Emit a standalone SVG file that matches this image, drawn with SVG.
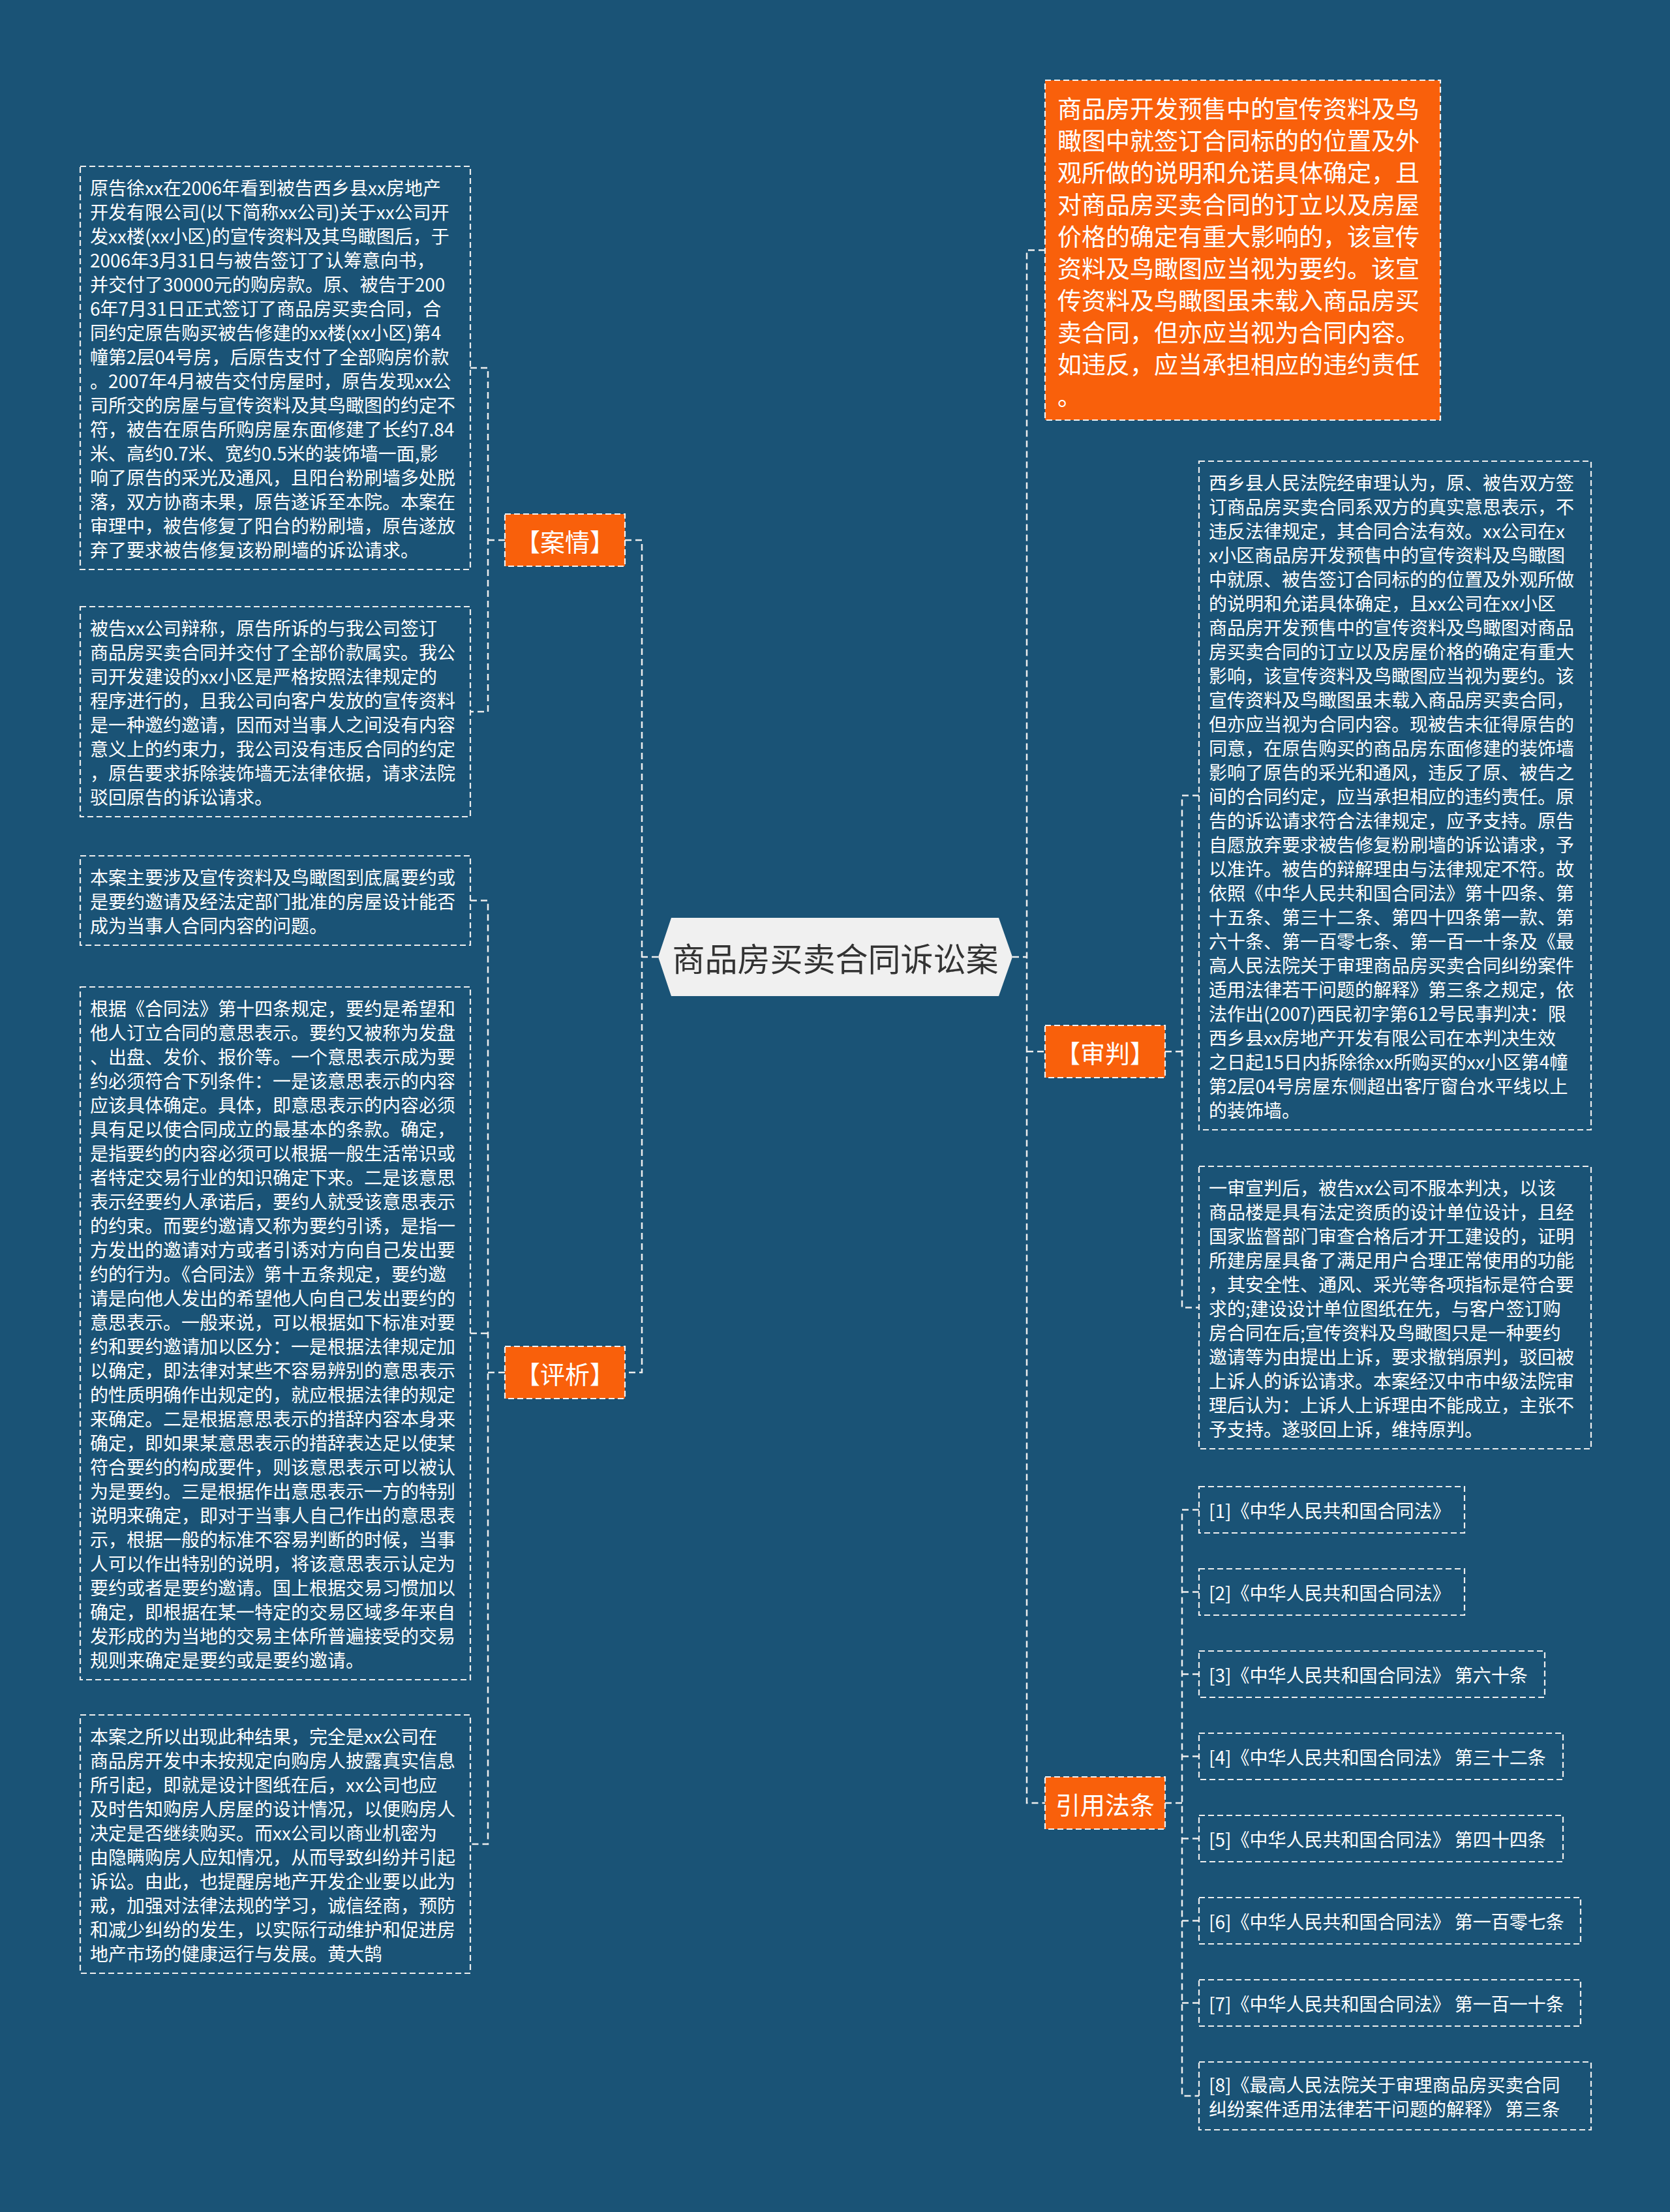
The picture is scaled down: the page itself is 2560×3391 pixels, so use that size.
<svg xmlns="http://www.w3.org/2000/svg" width="2560" height="3391" viewBox="0 0 2560 3391">
<style>
.bg{fill:#1a5376}
.box{fill:none;stroke:#eeeeee;stroke-width:2.2;stroke-dasharray:9 5}
.obox{fill:#f9600b;stroke:#f2f2f2;stroke-width:2.2;stroke-dasharray:9 5}
.t{font-family:"Noto Sans CJK SC","Noto Sans",sans-serif;font-size:28px;fill:#ffffff;dominant-baseline:central}
.ot{font-family:"Noto Sans CJK SC","Noto Sans",sans-serif;font-size:37px;fill:#ffffff;dominant-baseline:central}
.lt{font-family:"Noto Sans CJK SC","Noto Sans",sans-serif;font-size:38px;fill:#ffffff;dominant-baseline:central;text-anchor:middle}
.ct{font-family:"Noto Sans CJK SC","Noto Sans",sans-serif;font-size:50px;fill:#333333;dominant-baseline:central;text-anchor:middle}
.conn{fill:none;stroke:#eeeeee;stroke-width:2.5;stroke-dasharray:10 6}
</style>
<rect class="bg" x="0" y="0" width="2560" height="3391"/>

<g id="connectors">
<path class="conn" d="M1009,1467H984 M958,828H984V2104H958 M1552,1467H1574 M1602,383.5H1574V2764H1602 M1574,1612H1602 M774,828H748 M721,564H748V1091H721 M774,2104H748 M721,1380.5H748V2827H721 M721,2044H748 M1786,1612H1812 M1838,1219.5H1812V2004.5H1838 M1786,2764H1812 M1838,2314.5H1812V3213H1838 M1812,2440.5H1838 M1812,2566.5H1838 M1812,2692.5H1838 M1812,2818.5H1838 M1812,2944.5H1838 M1812,3070.5H1838"/>
</g>

<g id="root">
<polygon points="1009,1467 1029,1407 1531,1407 1552,1467 1531,1527 1029,1527" fill="#f0f0f0"/>
<text class="ct" x="1280.5" y="1467">商品房买卖合同诉讼案</text>
</g>

<g id="anqing">
<rect class="obox" x="774" y="788" width="184" height="80"/>
<text class="lt" x="866" y="828">【案情】</text>
</g>

<g id="pingxi">
<rect class="obox" x="774" y="2064" width="184" height="80"/>
<text class="lt" x="866" y="2104">【评析】</text>
</g>

<g id="box-a">
<rect class="box" x="123" y="255" width="598" height="618"/>
<text class="t">
<tspan x="138" y="286.5">原告徐xx在2006年看到被告西乡县xx房地产</tspan>
<tspan x="138" y="323.5">开发有限公司(以下简称xx公司)关于xx公司开</tspan>
<tspan x="138" y="360.5">发xx楼(xx小区)的宣传资料及其鸟瞰图后，于</tspan>
<tspan x="138" y="397.5">2006年3月31日与被告签订了认筹意向书，</tspan>
<tspan x="138" y="434.5">并交付了30000元的购房款。原、被告于200</tspan>
<tspan x="138" y="471.5">6年7月31日正式签订了商品房买卖合同，合</tspan>
<tspan x="138" y="508.5">同约定原告购买被告修建的xx楼(xx小区)第4</tspan>
<tspan x="138" y="545.5">幢第2层04号房，后原告支付了全部购房价款</tspan>
<tspan x="138" y="582.5">。2007年4月被告交付房屋时，原告发现xx公</tspan>
<tspan x="138" y="619.5">司所交的房屋与宣传资料及其鸟瞰图的约定不</tspan>
<tspan x="138" y="656.5">符，被告在原告所购房屋东面修建了长约7.84</tspan>
<tspan x="138" y="693.5">米、高约0.7米、宽约0.5米的装饰墙一面,影</tspan>
<tspan x="138" y="730.5">响了原告的采光及通风，且阳台粉刷墙多处脱</tspan>
<tspan x="138" y="767.5">落，双方协商未果，原告遂诉至本院。本案在</tspan>
<tspan x="138" y="804.5">审理中，被告修复了阳台的粉刷墙，原告遂放</tspan>
<tspan x="138" y="841.5">弃了要求被告修复该粉刷墙的诉讼请求。</tspan>
</text>
</g>

<g id="box-b">
<rect class="box" x="123" y="930" width="598" height="322"/>
<text class="t">
<tspan x="138" y="961.5">被告xx公司辩称，原告所诉的与我公司签订</tspan>
<tspan x="138" y="998.5">商品房买卖合同并交付了全部价款属实。我公</tspan>
<tspan x="138" y="1035.5">司开发建设的xx小区是严格按照法律规定的</tspan>
<tspan x="138" y="1072.5">程序进行的，且我公司向客户发放的宣传资料</tspan>
<tspan x="138" y="1109.5">是一种邀约邀请，因而对当事人之间没有内容</tspan>
<tspan x="138" y="1146.5">意义上的约束力，我公司没有违反合同的约定</tspan>
<tspan x="138" y="1183.5">，原告要求拆除装饰墙无法律依据，请求法院</tspan>
<tspan x="138" y="1220.5">驳回原告的诉讼请求。</tspan>
</text>
</g>

<g id="box-c">
<rect class="box" x="123" y="1312" width="598" height="137"/>
<text class="t">
<tspan x="138" y="1343.5">本案主要涉及宣传资料及鸟瞰图到底属要约或</tspan>
<tspan x="138" y="1380.5">是要约邀请及经法定部门批准的房屋设计能否</tspan>
<tspan x="138" y="1417.5">成为当事人合同内容的问题。</tspan>
</text>
</g>

<g id="box-d">
<rect class="box" x="123" y="1513" width="598" height="1062"/>
<text class="t">
<tspan x="138" y="1544.5">根据《合同法》第十四条规定，要约是希望和</tspan>
<tspan x="138" y="1581.5">他人订立合同的意思表示。要约又被称为发盘</tspan>
<tspan x="138" y="1618.5">、出盘、发价、报价等。一个意思表示成为要</tspan>
<tspan x="138" y="1655.5">约必须符合下列条件：一是该意思表示的内容</tspan>
<tspan x="138" y="1692.5">应该具体确定。具体，即意思表示的内容必须</tspan>
<tspan x="138" y="1729.5">具有足以使合同成立的最基本的条款。确定，</tspan>
<tspan x="138" y="1766.5">是指要约的内容必须可以根据一般生活常识或</tspan>
<tspan x="138" y="1803.5">者特定交易行业的知识确定下来。二是该意思</tspan>
<tspan x="138" y="1840.5">表示经要约人承诺后，要约人就受该意思表示</tspan>
<tspan x="138" y="1877.5">的约束。而要约邀请又称为要约引诱，是指一</tspan>
<tspan x="138" y="1914.5">方发出的邀请对方或者引诱对方向自己发出要</tspan>
<tspan x="138" y="1951.5">约的行为。《合同法》第十五条规定，要约邀</tspan>
<tspan x="138" y="1988.5">请是向他人发出的希望他人向自己发出要约的</tspan>
<tspan x="138" y="2025.5">意思表示。一般来说，可以根据如下标准对要</tspan>
<tspan x="138" y="2062.5">约和要约邀请加以区分：一是根据法律规定加</tspan>
<tspan x="138" y="2099.5">以确定，即法律对某些不容易辨别的意思表示</tspan>
<tspan x="138" y="2136.5">的性质明确作出规定的，就应根据法律的规定</tspan>
<tspan x="138" y="2173.5">来确定。二是根据意思表示的措辞内容本身来</tspan>
<tspan x="138" y="2210.5">确定，即如果某意思表示的措辞表达足以使某</tspan>
<tspan x="138" y="2247.5">符合要约的构成要件，则该意思表示可以被认</tspan>
<tspan x="138" y="2284.5">为是要约。三是根据作出意思表示一方的特别</tspan>
<tspan x="138" y="2321.5">说明来确定，即对于当事人自己作出的意思表</tspan>
<tspan x="138" y="2358.5">示，根据一般的标准不容易判断的时候，当事</tspan>
<tspan x="138" y="2395.5">人可以作出特别的说明，将该意思表示认定为</tspan>
<tspan x="138" y="2432.5">要约或者是要约邀请。国上根据交易习惯加以</tspan>
<tspan x="138" y="2469.5">确定，即根据在某一特定的交易区域多年来自</tspan>
<tspan x="138" y="2506.5">发形成的为当地的交易主体所普遍接受的交易</tspan>
<tspan x="138" y="2543.5">规则来确定是要约或是要约邀请。</tspan>
</text>
</g>

<g id="box-e">
<rect class="box" x="123" y="2629" width="598" height="396"/>
<text class="t">
<tspan x="138" y="2660.5">本案之所以出现此种结果，完全是xx公司在</tspan>
<tspan x="138" y="2697.5">商品房开发中未按规定向购房人披露真实信息</tspan>
<tspan x="138" y="2734.5">所引起，即就是设计图纸在后，xx公司也应</tspan>
<tspan x="138" y="2771.5">及时告知购房人房屋的设计情况，以便购房人</tspan>
<tspan x="138" y="2808.5">决定是否继续购买。而xx公司以商业机密为</tspan>
<tspan x="138" y="2845.5">由隐瞒购房人应知情况，从而导致纠纷并引起</tspan>
<tspan x="138" y="2882.5">诉讼。由此，也提醒房地产开发企业要以此为</tspan>
<tspan x="138" y="2919.5">戒，加强对法律法规的学习，诚信经商，预防</tspan>
<tspan x="138" y="2956.5">和减少纠纷的发生，以实际行动维护和促进房</tspan>
<tspan x="138" y="2993.5">地产市场的健康运行与发展。黄大鹄</tspan>
</text>
</g>

<g id="summary">
<rect class="obox" x="1602" y="123" width="606" height="521"/>
<text class="ot">
<tspan x="1621" y="165">商品房开发预售中的宣传资料及鸟</tspan>
<tspan x="1621" y="214">瞰图中就签订合同标的的位置及外</tspan>
<tspan x="1621" y="263">观所做的说明和允诺具体确定，且</tspan>
<tspan x="1621" y="312">对商品房买卖合同的订立以及房屋</tspan>
<tspan x="1621" y="361">价格的确定有重大影响的，该宣传</tspan>
<tspan x="1621" y="410">资料及鸟瞰图应当视为要约。该宣</tspan>
<tspan x="1621" y="459">传资料及鸟瞰图虽未载入商品房买</tspan>
<tspan x="1621" y="508">卖合同，但亦应当视为合同内容。</tspan>
<tspan x="1621" y="557">如违反，应当承担相应的违约责任</tspan>
<tspan x="1621" y="606">。</tspan>
</text>
</g>

<g id="shenpan">
<rect class="obox" x="1602" y="1572" width="184" height="80"/>
<text class="lt" x="1694" y="1612">【审判】</text>
</g>

<g id="box-f">
<rect class="box" x="1838" y="707" width="601" height="1025"/>
<text class="t">
<tspan x="1853" y="738.5">西乡县人民法院经审理认为，原、被告双方签</tspan>
<tspan x="1853" y="775.5">订商品房买卖合同系双方的真实意思表示，不</tspan>
<tspan x="1853" y="812.5">违反法律规定，其合同合法有效。xx公司在x</tspan>
<tspan x="1853" y="849.5">x小区商品房开发预售中的宣传资料及鸟瞰图</tspan>
<tspan x="1853" y="886.5">中就原、被告签订合同标的的位置及外观所做</tspan>
<tspan x="1853" y="923.5">的说明和允诺具体确定，且xx公司在xx小区</tspan>
<tspan x="1853" y="960.5">商品房开发预售中的宣传资料及鸟瞰图对商品</tspan>
<tspan x="1853" y="997.5">房买卖合同的订立以及房屋价格的确定有重大</tspan>
<tspan x="1853" y="1034.5">影响，该宣传资料及鸟瞰图应当视为要约。该</tspan>
<tspan x="1853" y="1071.5">宣传资料及鸟瞰图虽未载入商品房买卖合同，</tspan>
<tspan x="1853" y="1108.5">但亦应当视为合同内容。现被告未征得原告的</tspan>
<tspan x="1853" y="1145.5">同意，在原告购买的商品房东面修建的装饰墙</tspan>
<tspan x="1853" y="1182.5">影响了原告的采光和通风，违反了原、被告之</tspan>
<tspan x="1853" y="1219.5">间的合同约定，应当承担相应的违约责任。原</tspan>
<tspan x="1853" y="1256.5">告的诉讼请求符合法律规定，应予支持。原告</tspan>
<tspan x="1853" y="1293.5">自愿放弃要求被告修复粉刷墙的诉讼请求，予</tspan>
<tspan x="1853" y="1330.5">以准许。被告的辩解理由与法律规定不符。故</tspan>
<tspan x="1853" y="1367.5">依照《中华人民共和国合同法》第十四条、第</tspan>
<tspan x="1853" y="1404.5">十五条、第三十二条、第四十四条第一款、第</tspan>
<tspan x="1853" y="1441.5">六十条、第一百零七条、第一百一十条及《最</tspan>
<tspan x="1853" y="1478.5">高人民法院关于审理商品房买卖合同纠纷案件</tspan>
<tspan x="1853" y="1515.5">适用法律若干问题的解释》第三条之规定，依</tspan>
<tspan x="1853" y="1552.5">法作出(2007)西民初字第612号民事判决：限</tspan>
<tspan x="1853" y="1589.5">西乡县xx房地产开发有限公司在本判决生效</tspan>
<tspan x="1853" y="1626.5">之日起15日内拆除徐xx所购买的xx小区第4幢</tspan>
<tspan x="1853" y="1663.5">第2层04号房屋东侧超出客厅窗台水平线以上</tspan>
<tspan x="1853" y="1700.5">的装饰墙。</tspan>
</text>
</g>

<g id="box-g">
<rect class="box" x="1838" y="1788" width="601" height="433"/>
<text class="t">
<tspan x="1853" y="1819.5">一审宣判后，被告xx公司不服本判决，以该</tspan>
<tspan x="1853" y="1856.5">商品楼是具有法定资质的设计单位设计，且经</tspan>
<tspan x="1853" y="1893.5">国家监督部门审查合格后才开工建设的，证明</tspan>
<tspan x="1853" y="1930.5">所建房屋具备了满足用户合理正常使用的功能</tspan>
<tspan x="1853" y="1967.5">，其安全性、通风、采光等各项指标是符合要</tspan>
<tspan x="1853" y="2004.5">求的;建设设计单位图纸在先，与客户签订购</tspan>
<tspan x="1853" y="2041.5">房合同在后;宣传资料及鸟瞰图只是一种要约</tspan>
<tspan x="1853" y="2078.5">邀请等为由提出上诉，要求撤销原判，驳回被</tspan>
<tspan x="1853" y="2115.5">上诉人的诉讼请求。本案经汉中市中级法院审</tspan>
<tspan x="1853" y="2152.5">理后认为：上诉人上诉理由不能成立，主张不</tspan>
<tspan x="1853" y="2189.5">予支持。遂驳回上诉，维持原判。</tspan>
</text>
</g>

<g id="yinyong">
<rect class="obox" x="1602" y="2724" width="184" height="80"/>
<text class="lt" x="1694" y="2764">引用法条</text>
</g>

<g id="law-1">
<rect class="box" x="1838" y="2279" width="407" height="71"/>
<text class="t" x="1853" y="2314.5">[1]《中华人民共和国合同法》</text>
</g>
<g id="law-2">
<rect class="box" x="1838" y="2405" width="407" height="71"/>
<text class="t" x="1853" y="2440.5">[2]《中华人民共和国合同法》</text>
</g>
<g id="law-3">
<rect class="box" x="1838" y="2531" width="530" height="71"/>
<text class="t" x="1853" y="2566.5">[3]《中华人民共和国合同法》 第六十条</text>
</g>
<g id="law-4">
<rect class="box" x="1838" y="2657" width="558" height="71"/>
<text class="t" x="1853" y="2692.5">[4]《中华人民共和国合同法》 第三十二条</text>
</g>
<g id="law-5">
<rect class="box" x="1838" y="2783" width="558" height="71"/>
<text class="t" x="1853" y="2818.5">[5]《中华人民共和国合同法》 第四十四条</text>
</g>
<g id="law-6">
<rect class="box" x="1838" y="2909" width="585" height="71"/>
<text class="t" x="1853" y="2944.5">[6]《中华人民共和国合同法》 第一百零七条</text>
</g>
<g id="law-7">
<rect class="box" x="1838" y="3035" width="585" height="71"/>
<text class="t" x="1853" y="3070.5">[7]《中华人民共和国合同法》 第一百一十条</text>
</g>
<g id="law-8">
<rect class="box" x="1838" y="3161" width="601" height="104"/>
<text class="t">
<tspan x="1853" y="3194.5">[8]《最高人民法院关于审理商品房买卖合同</tspan>
<tspan x="1853" y="3231.5">纠纷案件适用法律若干问题的解释》 第三条</tspan>
</text>
</g>
</svg>
